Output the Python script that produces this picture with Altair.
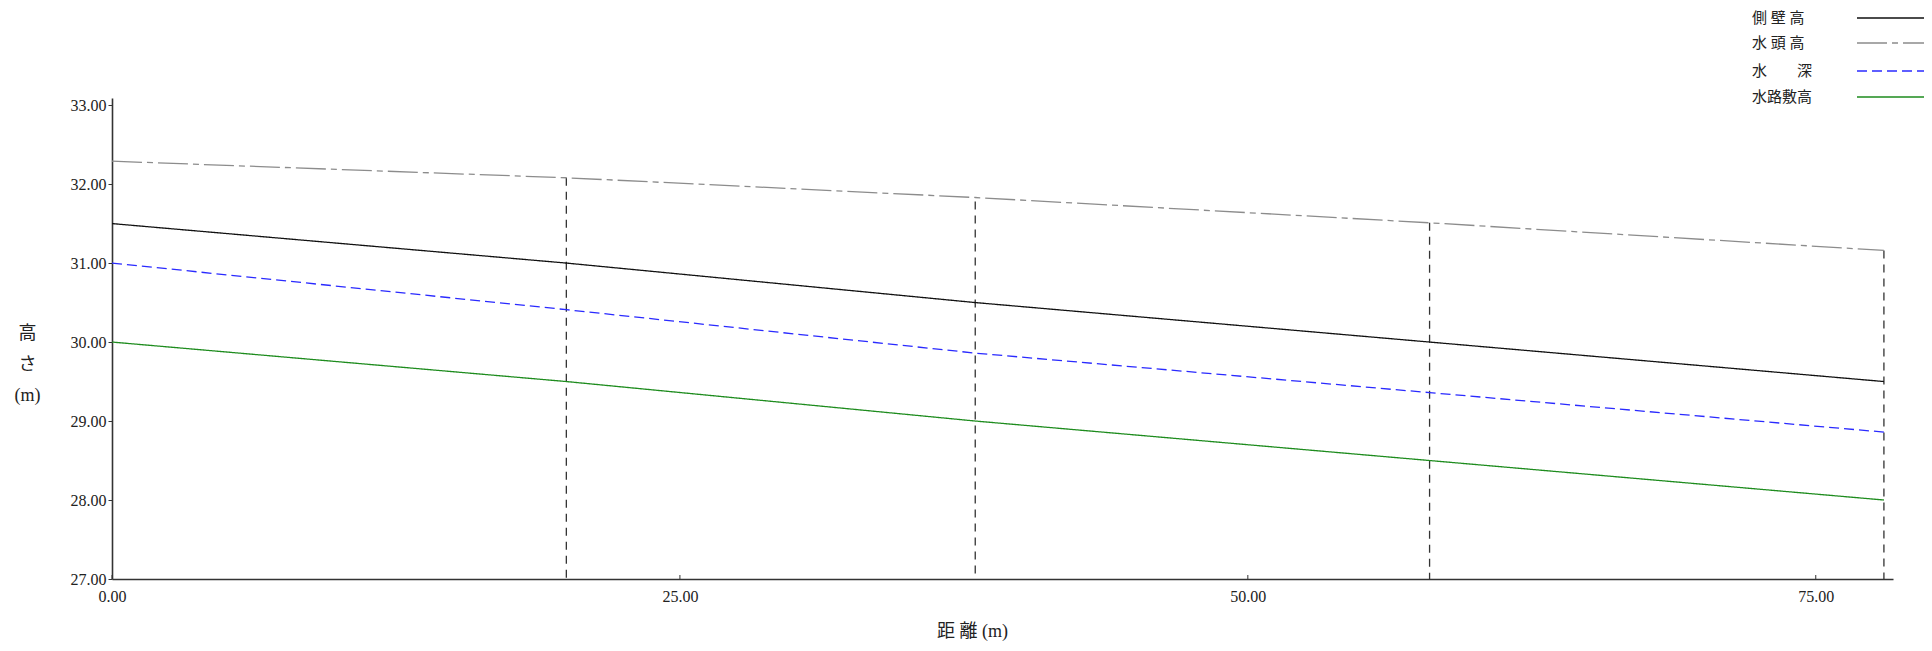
import altair as alt
import pandas as pd

# ---- data ----
dist = [0, 20, 38, 58, 78]
side_wall = [31.50, 31.00, 30.50, 30.00, 29.50]   # 側壁高
energy = [32.29, 32.08, 31.83, 31.51, 31.16]      # 水頭高
water = [31.00, 30.41, 29.86, 29.36, 28.86]       # 水深
bed = [30.00, 29.50, 29.00, 28.50, 28.00]         # 水路敷高

series_names = ["側 壁 高", "水 頭 高", "水　　深", "水路敷高"]
series_colors = ["#111111", "#8c8c8c", "#2a2aff", "#1e8c1e"]
series_dash = [[1, 0], [30, 5, 6, 5], [10, 5], [1, 0]]

sec_dist = [20, 38, 58, 78]
sec_top = [32.08, 31.78, 31.51, 31.16]

x_ticks = [0, 25, 50, 75]
y_ticks = [27, 28, 29, 30, 31, 32, 33]

# ---- layout ----
W, H = 1781, 481
FONT = "Liberation Serif, Noto Sans CJK JP"
AX = "#333333"

rows = []
for name, vals in zip(series_names, [side_wall, energy, water, bed]):
    for d, v in zip(dist, vals):
        rows.append({"dist": d, "elev": v, "series": name})
df = pd.DataFrame(rows)

xscale = alt.Scale(domain=[0, 78.4], nice=False, zero=False)
yscale = alt.Scale(domain=[27, 33.09], nice=False, zero=False)

xaxis = alt.Axis(
    values=x_ticks, format=".2f", ticks=False, labelPadding=9, labelFlush=False,
    grid=False, domainColor=AX, domainWidth=1.6,
    labelFont=FONT, labelFontSize=16, labelColor="#222",
    title="距 離 (m)", titleFont=FONT, titleFontSize=18, titleFontWeight="normal",
    titleColor="#222", titleX=860, titleY=52, titleAlign="center",
    titleBaseline="middle", titleAnchor="start",
)
yaxis = alt.Axis(
    values=y_ticks, format=".2f", tickSize=4, tickColor=AX, labelPadding=2,
    grid=False, domainColor=AX, domainWidth=1.6,
    labelFont=FONT, labelFontSize=16, labelColor="#222",
    title=["高", "さ", "(m)"], titleFont=FONT, titleFontSize=18,
    titleFontWeight="normal", titleColor="#222", titleAngle=0,
    titleX=-85, titleY=235, titleAlign="center", titleBaseline="middle",
    titleLineHeight=31, titleAnchor="start",
)

lines = alt.Chart(df).mark_line(strokeWidth=1.3).encode(
    x=alt.X("dist:Q", scale=xscale, axis=xaxis),
    y=alt.Y("elev:Q", scale=yscale, axis=yaxis),
    color=alt.Color("series:N", scale=alt.Scale(domain=series_names, range=series_colors), legend=None),
    strokeDash=alt.StrokeDash("series:N", scale=alt.Scale(domain=series_names, range=series_dash), legend=None),
)

sec_df = pd.DataFrame({"dist": sec_dist, "top": sec_top})
sections = alt.Chart(sec_df).mark_rule(color="#333", strokeWidth=1.3, strokeDash=[8, 6]).encode(
    x=alt.X("dist:Q", scale=xscale),
    y=alt.Y("top:Q", scale=yscale),
    y2=alt.value(H),
)

tick_df = pd.DataFrame({"t": x_ticks})
xticks = alt.Chart(tick_df).mark_rule(color=AX, strokeWidth=1).encode(
    x=alt.X("t:Q", scale=xscale),
    y=alt.value(H),
    y2=alt.value(H - 4),
)

legend_layers = []
legend_y = [-80, -55, -27, -1]
for i, name in enumerate(series_names):
    ldf = pd.DataFrame({"label": [name]})
    legend_layers.append(
        alt.Chart(ldf).mark_text(align="left", baseline="middle", font=FONT, fontSize=15, color="#222").encode(
            text="label:N", x=alt.value(1640), y=alt.value(legend_y[i])
        )
    )
    legend_layers.append(
        alt.Chart(ldf).mark_rule(color=series_colors[i], strokeDash=series_dash[i], strokeWidth=1.3).encode(
            x=alt.value(1745), x2=alt.value(1812), y=alt.value(legend_y[i])
        )
    )

chart = alt.layer(sections, lines, xticks, *legend_layers).properties(
    width=W, height=H,
    autosize=alt.AutoSizeParams(type="none"),
    padding={"left": 104, "top": 90, "right": 31, "bottom": 64},
).configure_view(stroke=None)

chart.save("out.html", embed_options={"renderer": "svg", "actions": False})
